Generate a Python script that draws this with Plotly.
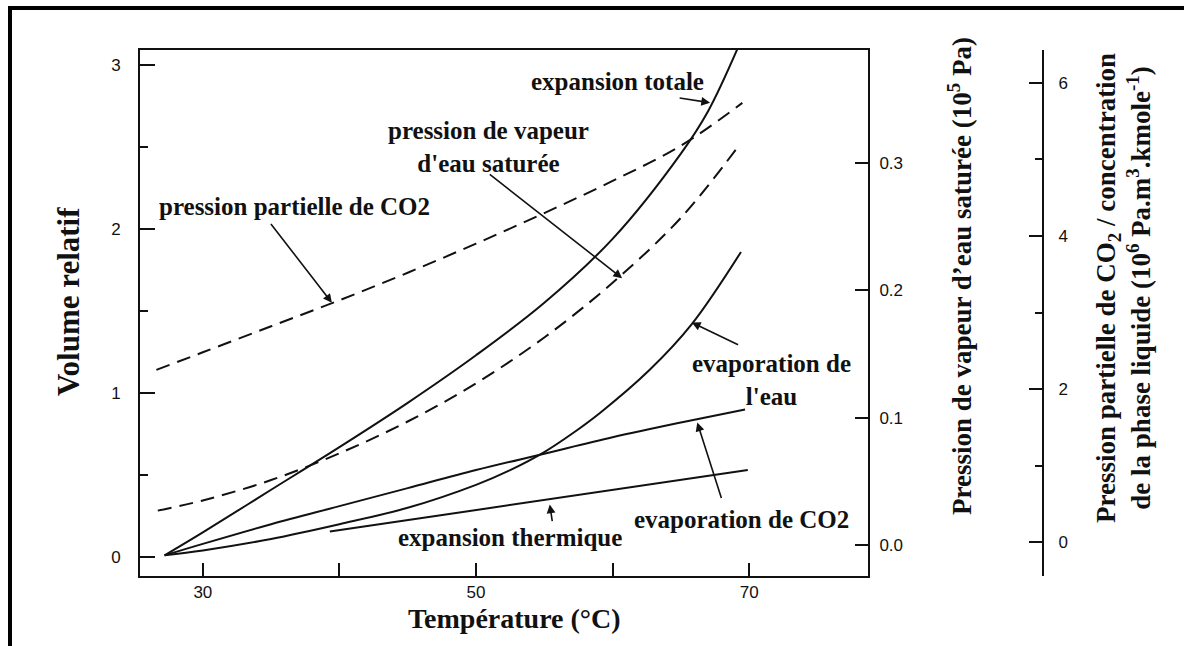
import plotly.graph_objects as go

# ---------------------------------------------------------------------------
# Data
# ---------------------------------------------------------------------------

# expansion totale (Volume relatif)
t_totale = [27.2, 30, 35, 40, 45, 50, 55, 60, 65, 67, 69.2]
v_totale = [0.01, 0.15, 0.41, 0.67, 0.94, 1.23, 1.55, 1.94, 2.46, 2.72, 3.11]

# evaporation de l'eau (Volume relatif)
t_eau = [27.2, 30, 35, 40, 45, 50, 52.5, 55, 57, 59.1, 62.7, 65.8, 69.4]
v_eau = [0.01, 0.04, 0.11, 0.20, 0.30, 0.44, 0.53, 0.64, 0.75, 0.88, 1.14, 1.42, 1.86]

# evaporation de CO2 (Volume relatif)
t_evap_co2 = [27.2, 30, 35, 40, 45, 50, 55, 60, 65, 69.7]
v_evap_co2 = [0.01, 0.08, 0.20, 0.31, 0.42, 0.53, 0.63, 0.73, 0.82, 0.90]

# expansion thermique (Volume relatif)
t_thermique = [39.3, 45, 50, 55, 60, 65, 69.9]
v_thermique = [0.155, 0.225, 0.285, 0.35, 0.41, 0.47, 0.53]

# pression de vapeur d'eau saturee (10^5 Pa)
t_vapeur = [26.7, 30, 35, 40, 45, 50, 55, 60, 65, 69.2]
p_vapeur = [0.027, 0.035, 0.051, 0.072, 0.097, 0.127, 0.163, 0.206, 0.257, 0.313]

# pression partielle de CO2 / concentration (10^6 Pa.m3.kmole-1)
t_co2 = [26.6, 30, 35, 40, 45, 50, 55, 60, 65, 69.5]
p_co2 = [2.25, 2.48, 2.82, 3.16, 3.52, 3.90, 4.30, 4.72, 5.18, 5.74]

# axis ticks
x_ticks = [30, 40, 50, 60, 70]
x_ticklabels = ["30", "", "50", "", "70"]
y_ticks = [0, 1, 2, 3]
y2_ticks = [0.0, 0.1, 0.2, 0.3]
y2_ticklabels = ["0.0", "0.1", "0.2", "0.3"]
y3_ticks = [0, 2, 4, 6]

# ---------------------------------------------------------------------------
# Layout helpers (pixel -> paper fraction)
# ---------------------------------------------------------------------------
W, H = 1184, 646
L, R, T, B = 140, 141, 50, 70
PW, PH = W - L - R, H - T - B


def px(x):
    return (x - L) / PW


def py(y):
    return (H - B - y) / PH


SERIF = "Liberation Serif"
SANS = "Liberation Sans"
INK = "#111111"
DASH = "14px,8px"

fig = go.Figure()

solid = dict(color=INK, width=2)
dashed = dict(color=INK, width=2, dash=DASH)

fig.add_trace(go.Scatter(x=t_totale, y=v_totale, mode="lines", line=solid,
                         line_shape="spline", name="expansion totale"))
fig.add_trace(go.Scatter(x=t_eau, y=v_eau, mode="lines", line=solid,
                         line_shape="spline", name="evaporation de l'eau"))
fig.add_trace(go.Scatter(x=t_evap_co2, y=v_evap_co2, mode="lines", line=solid,
                         line_shape="spline", name="evaporation de CO2"))
fig.add_trace(go.Scatter(x=t_thermique, y=v_thermique, mode="lines", line=solid,
                         name="expansion thermique"))
fig.add_trace(go.Scatter(x=t_vapeur, y=p_vapeur, mode="lines", line=dashed,
                         line_shape="spline", yaxis="y2",
                         name="pression de vapeur d'eau saturée"))
fig.add_trace(go.Scatter(x=t_co2, y=p_co2, mode="lines", line=dashed,
                         line_shape="spline", yaxis="y3",
                         name="pression partielle de CO2"))

# ---------------------------------------------------------------------------
# Curve labels and arrows
# ---------------------------------------------------------------------------
label_font = dict(family=SERIF, size=25, color=INK, weight="bold")

labels = [
    ("expansion totale", 60.33, 2.90),
    ("pression de vapeur<br>d'eau saturée", 50.88, 2.50),
    ("pression partielle de CO2", 36.74, 2.14),
    ("evaporation de<br>l'eau", 71.61, 1.08),
    ("evaporation de CO2", 69.41, 0.226),
    ("expansion thermique", 52.49, 0.116),
]
for text, lx, ly in labels:
    fig.add_annotation(x=lx, y=ly, xref="x", yref="y", text=text,
                       showarrow=False, font=label_font, align="center",
                       xanchor="center", yanchor="middle")

# (tail_x, tail_y, head_x, head_y)
arrows = [
    (64.8, 2.80, 67.14, 2.77),
    (50.9, 2.34, 60.7, 1.70),
    (34.9, 2.04, 39.45, 1.55),
    (69.3, 1.29, 65.8, 1.43),
    (68.0, 0.35, 66.2, 0.82),
    (55.6, 0.21, 55.4, 0.32),
]
for tx, ty, hx, hy in arrows:
    fig.add_annotation(x=hx, y=hy, ax=tx, ay=ty, xref="x", yref="y",
                       axref="x", ayref="y", text="", showarrow=True,
                       arrowhead=2, arrowsize=1.1, arrowwidth=1.6,
                       arrowcolor=INK, standoff=0, startstandoff=0)

# ---------------------------------------------------------------------------
# Axis titles
# ---------------------------------------------------------------------------
title_font = dict(family=SERIF, color=INK, weight="bold")
title_common = dict(xref="paper", yref="paper", showarrow=False,
                    xanchor="center", yanchor="middle")
fig.add_annotation(x=px(68), y=py(302), text="Volume relatif", textangle=-90,
                   font=dict(title_font, size=31), **title_common)
fig.add_annotation(x=px(514), y=py(618), text="Température (°C)",
                   font=dict(title_font, size=28), **title_common)
fig.add_annotation(x=px(960), y=py(276),
                   text="Pression de vapeur d’eau saturée (10<sup>5</sup> Pa)",
                   textangle=-90, font=dict(title_font, size=27), **title_common)
fig.add_annotation(x=px(1123), y=py(288),
                   text="Pression partielle de CO<sub>2</sub> / concentration<br>"
                        "de la phase liquide (10<sup>6</sup> Pa.m<sup>3</sup>.kmole<sup>-1</sup>)",
                   textangle=-90, align="center",
                   font=dict(title_font, size=27), **title_common)

# outer frame of the scanned figure (left and top edges)
frame = dict(color="black", width=4)
fig.add_shape(type="line", xref="paper", yref="paper",
              x0=px(10), x1=px(10), y0=py(6), y1=py(660), line=frame)
fig.add_shape(type="line", xref="paper", yref="paper",
              x0=px(8), x1=px(1190), y0=py(8), y1=py(8), line=frame)

tick_font = dict(family=SANS, size=17, color="#111111")

fig.update_layout(
    width=W,
    height=H,
    margin=dict(l=L, r=R, t=T, b=B, pad=0),
    paper_bgcolor="white",
    plot_bgcolor="white",
    showlegend=False,
    xaxis=dict(
        domain=[0, (868 - L) / PW],
        range=[25.4, 78.7],
        tickvals=x_ticks,
        ticktext=x_ticklabels,
        ticks="inside",
        ticklen=13,
        tickwidth=2,
        tickcolor=INK,
        showline=True,
        linewidth=2,
        linecolor=INK,
        mirror=True,
        showgrid=False,
        zeroline=False,
        tickfont=tick_font,
        ticklabelstandoff=0,
    ),
    yaxis=dict(
        range=[-0.1159, 3.0915],
        tickvals=y_ticks,
        ticks="inside",
        ticklen=15,
        tickwidth=2,
        tickcolor=INK,
        minor=dict(tickvals=[0.5, 1.5, 2.5], ticks="inside", ticklen=8,
                   tickwidth=2, tickcolor=INK),
        showline=True,
        linewidth=2,
        linecolor=INK,
        showgrid=False,
        zeroline=False,
        tickfont=tick_font,
        ticklabelstandoff=14,
    ),
    yaxis2=dict(
        overlaying="y",
        anchor="x",
        side="right",
        range=[-0.02435, 0.3888],
        tickvals=y2_ticks,
        ticktext=y2_ticklabels,
        ticks="inside",
        ticklen=13,
        tickwidth=2,
        tickcolor=INK,
        showline=True,
        linewidth=2,
        linecolor=INK,
        showgrid=False,
        zeroline=False,
        tickfont=tick_font,
        ticklabelstandoff=6,
    ),
    yaxis3=dict(
        overlaying="y",
        anchor="free",
        position=1.0,
        side="right",
        range=[-0.444, 6.431],
        tickvals=y3_ticks,
        ticks="inside",
        ticklen=13,
        tickwidth=2,
        tickcolor=INK,
        minor=dict(tickvals=[1, 3, 5], ticks="inside", ticklen=7,
                   tickwidth=2, tickcolor=INK),
        showline=True,
        linewidth=2,
        linecolor=INK,
        showgrid=False,
        zeroline=False,
        tickfont=tick_font,
        ticklabelstandoff=11,
    ),
)

# the page's default body margin would shift the figure by 8 px
fig.write_html("out.html", config={"displayModeBar": False},
               post_script="document.body.style.margin='0px';")
